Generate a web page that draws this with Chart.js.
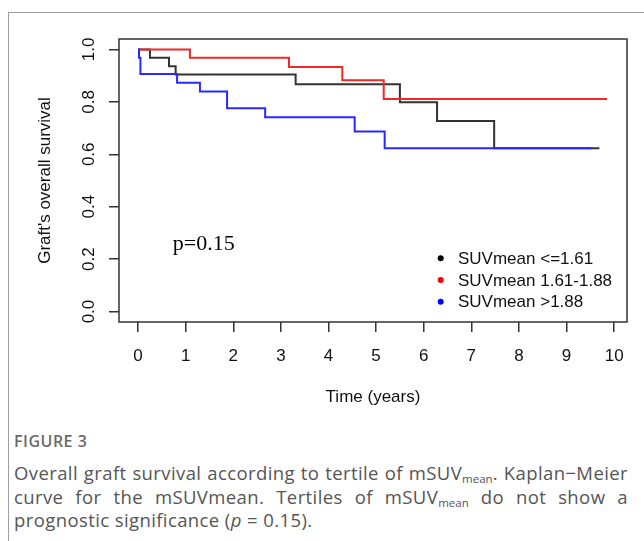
<!DOCTYPE html>
<html>
<head>
<meta charset="utf-8">
<script src="https://cdn.jsdelivr.net/npm/chart.js@4.4.1/dist/chart.umd.min.js"></script>
<style>
  html, body { margin: 0; padding: 0; background: #fff; }
  body { width: 644px; height: 541px; position: relative; overflow: hidden; }
  .frame { position: absolute; left: 8px; top: 12px; right: 0; bottom: -2px;
           border-left: 1px solid #a0a0a0; border-top: 1px solid #a0a0a0; }
  .wrap { position: absolute; left: 0; top: 0; width: 644px; height: 420px; }
  .fig { position: absolute; left: 14px; top: 430px; font: 600 16px "Open Sans", sans-serif;
         color: #6a6a6a; letter-spacing: 0.5px; }
  .cap { position: absolute; left: 14px; top: 461px; width: 614px; margin: 0;
         font: 18.5px/23.5px "Open Sans", sans-serif; letter-spacing: 0.4px;
         color: #555; text-align: justify; }
  .cap sub { font-size: 11.5px; vertical-align: -3px; line-height: 0; letter-spacing: 0; }
</style>
</head>
<body>
<div class="frame"></div>
<div class="wrap"><canvas id="grafico"></canvas></div>
<div class="fig">FIGURE 3</div>
<p class="cap">Overall graft survival according to tertile of mSUV<sub>mean</sub>. Kaplan−Meier curve for the mSUVmean. Tertiles of mSUV<sub>mean</sub> do not show a prognostic significance (<i>p</i>&nbsp;=&nbsp;0.15).</p>

<script>
  // Dados
  const serieNomes = ['SUVmean <=1.61', 'SUVmean 1.61-1.88', 'SUVmean >1.88'];
  const serieCores = ['#000000', '#ff0000', '#0000ff'];

  const tempoBaixo = [0, 0.25, 0.65, 0.79, 3.31, 5.50, 6.28, 7.48, 9.69];
  const survBaixo  = [1, 0.968, 0.936, 0.905, 0.867, 0.799, 0.727, 0.623, 0.623];

  const tempoMedio = [0, 1.09, 3.17, 4.29, 5.16, 9.85];
  const survMedio  = [1, 0.968, 0.933, 0.883, 0.811, 0.811];

  const tempoAlto = [0, 0.02, 0.05, 0.82, 1.30, 1.87, 2.67, 4.55, 5.18, 9.52];
  const survAlto  = [1, 0.968, 0.906, 0.873, 0.840, 0.776, 0.741, 0.687, 0.623, 0.623];

  const xTicks = [0, 1, 2, 3, 4, 5, 6, 7, 8, 9, 10];
  const yTicks = [0, 0.2, 0.4, 0.6, 0.8, 1.0];
  const pTexto = 'p=0.15';
  const pPos = [1.38, 0.255];

  const pares = (t, s) => t.map((v, i) => ({ x: v, y: s[i] }));
  const fonteEixo = '"Liberation Sans", Arial, sans-serif';

  // caixa do R, rótulos verticais do eixo y, p-valor e legenda
  const plugR = {
    id: 'plugR',
    afterDraw(chart) {
      const { ctx, chartArea: a, scales: { x, y } } = chart;
      ctx.save();
      ctx.strokeStyle = '#333';
      ctx.lineWidth = 1.5;
      ctx.strokeRect(a.left, a.top, a.right - a.left, a.bottom - a.top);

      ctx.fillStyle = '#111';
      ctx.font = '17px ' + fonteEixo;
      ctx.textAlign = 'center';
      ctx.textBaseline = 'middle';
      yTicks.forEach(v => {
        ctx.save();
        ctx.translate(89, y.getPixelForValue(v));
        ctx.rotate(-Math.PI / 2);
        ctx.fillText(v.toFixed(1), 0, 0);
        ctx.restore();
      });

      ctx.fillStyle = '#000';
      ctx.font = '22px "Liberation Serif", "Times New Roman", serif';
      ctx.fillText(pTexto, x.getPixelForValue(pPos[0]), y.getPixelForValue(pPos[1]));

      ctx.font = '17px ' + fonteEixo;
      ctx.textAlign = 'left';
      chart.data.datasets.forEach((ds, i) => {
        const ly = 258.3 + i * 21.7;
        ctx.fillStyle = serieCores[i];
        ctx.beginPath();
        ctx.arc(440.7, ly, 3, 0, Math.PI * 2);
        ctx.fill();
        ctx.fillStyle = '#111';
        ctx.fillText(ds.label, 458, ly + 1);
      });
      ctx.restore();
    }
  };

  const linhaCores = ['#333333', '#f02828', '#2828ff'];
  const grafico = new Chart(document.getElementById('grafico'), {
    type: 'line',
    data: {
      datasets: [
        { label: serieNomes[0], data: pares(tempoBaixo, survBaixo), order: 3 },
        { label: serieNomes[1], data: pares(tempoMedio, survMedio), order: 2 },
        { label: serieNomes[2], data: pares(tempoAlto, survAlto), order: 1 }
      ].map((d, i) => Object.assign(d, {
        borderColor: linhaCores[i],
        backgroundColor: linhaCores[i],
        borderWidth: 2,
        stepped: 'before',
        pointRadius: 0,
        fill: false
      }))
    },
    options: {
      responsive: true,
      maintainAspectRatio: false,
      animation: false,
      layout: { padding: { left: 0, top: 39, right: 17, bottom: 0 } },
      plugins: { legend: { display: false }, tooltip: { enabled: false } },
      scales: {
        x: {
          type: 'linear',
          min: -0.4,
          max: 10.27,
          afterBuildTicks: s => { s.ticks = xTicks.map(v => ({ value: v })); },
          afterFit: s => { s.height = 98; },
          border: { display: false },
          grid: { drawOnChartArea: false, drawTicks: true, tickLength: 10, color: '#333', lineWidth: 1.5 },
          ticks: { color: '#111', font: { size: 17, family: fonteEixo }, padding: 14, maxRotation: 0, autoSkip: false },
          title: { display: true, text: 'Time (years)', color: '#111',
                   font: { size: 17, family: fonteEixo }, padding: { top: 0, bottom: 12 } }
        },
        y: {
          type: 'linear',
          min: -0.04,
          max: 1.04,
          afterBuildTicks: s => { s.ticks = yTicks.map(v => ({ value: v })); },
          afterFit: s => { s.width = 119; },
          border: { display: false },
          grid: { drawOnChartArea: false, drawTicks: true, tickLength: 10, color: '#333', lineWidth: 1.5 },
          ticks: { display: false },
          title: { display: true, text: "Graft's overall survival", color: '#111',
                   font: { size: 17, family: fonteEixo }, padding: { top: 35, bottom: 0 } }
        }
      }
    },
    plugins: [plugR]
  });
</script>
</body>
</html>
